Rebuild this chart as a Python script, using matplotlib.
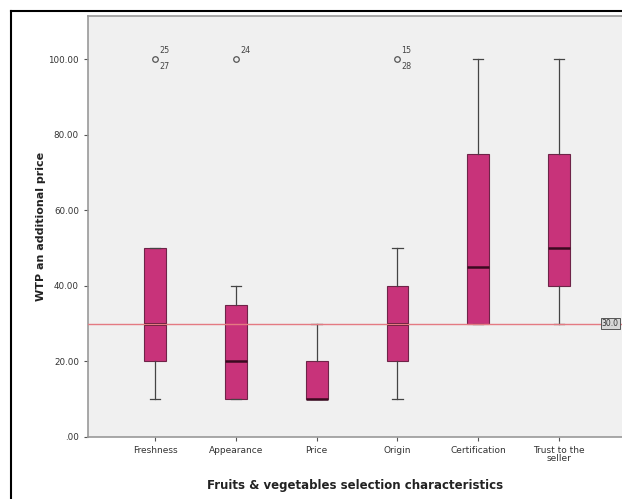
import matplotlib
matplotlib.use("Agg")
import matplotlib.pyplot as plt
from matplotlib.lines import Line2D

categories = ["Freshness", "Appearance", "Price", "Origin", "Certification", "Trust to the\nseller"]
whislo = [10, 10, 10, 10, 30, 30]
q1 = [20, 10, 10, 20, 30, 40]
med = [30, 20, 10, 30, 45, 50]
q3 = [50, 35, 20, 40, 75, 75]
whishi = [50, 40, 30, 50, 100, 100]
fliers = [[100], [100], [], [100], [], []]
flier_labels = [("25", "27"), ("24", None), None, ("15", "28"), None, None]
ref_value = 30.0
yticks = [0, 20, 40, 60, 80, 100]
ytick_labels = [".00", "20.00", "40.00", "60.00", "80.00", "100.00"]

fig = plt.figure(figsize=(6.22, 4.99), dpi=100)
ax = fig.add_axes([88/622, 1-437/499, 1-88/622, (437-16)/499])
ax.set_facecolor("#F0F0F0")

stats = []
for i in range(len(categories)):
    stats.append(dict(whislo=whislo[i], q1=q1[i], med=med[i], q3=q3[i],
                      whishi=whishi[i], fliers=fliers[i], label=categories[i]))

ax.bxp(stats, positions=range(len(categories)), widths=0.27, patch_artist=True,
       showfliers=True,
       boxprops=dict(facecolor="#C8337A", edgecolor="#6E2448", lw=0.8),
       medianprops=dict(color="#3A0A20", lw=1.8),
       whiskerprops=dict(color="#444444", lw=0.9),
       capprops=dict(color="#444444", lw=0.9),
       capwidths=0.13,
       flierprops=dict(marker="o", markersize=4, markerfacecolor="none",
                       markeredgecolor="#555555", markeredgewidth=0.9),
       zorder=2)

ax.axhline(ref_value, color="#E47A82", lw=1.0, zorder=4)

for i, labs in enumerate(flier_labels):
    if labs is None:
        continue
    top, bot = labs
    ax.annotate(top, (i, fliers[i][0]), xytext=(3, 3), textcoords="offset points",
                fontsize=5.8, color="#444444", ha="left", va="bottom")
    if bot:
        ax.annotate(bot, (i, fliers[i][0]), xytext=(3, -2), textcoords="offset points",
                    fontsize=5.8, color="#444444", ha="left", va="top")

ax.text(5.74, ref_value, "30.0", fontsize=5.5, color="#333333", va="center", ha="right",
        bbox=dict(boxstyle="square,pad=0.15", facecolor="#D8D8D8", edgecolor="#555555", lw=0.7),
        zorder=5, clip_on=False)

ax.set_xlim(-0.83, 5.78)
ax.set_ylim(0, 111.4)
ax.set_yticks(yticks)
ax.set_yticklabels(ytick_labels)
ax.set_xticks(range(len(categories)))
ax.set_xticklabels(categories, linespacing=0.9)
ax.tick_params(axis="both", colors="#555555", length=3, width=0.8, labelcolor="#333333")
ax.tick_params(axis="x", labelsize=6.5)
ax.tick_params(axis="y", labelsize=6.3)
for s in ["left", "bottom", "top"]:
    ax.spines[s].set_color("#999999")
    ax.spines[s].set_linewidth(1.2)
ax.spines["right"].set_visible(False)

ax.set_ylabel("WTP an additional price", fontsize=8, fontweight="bold", color="#222222", labelpad=2)
ax.set_xlabel("Fruits & vegetables selection characteristics", fontsize=8.5,
              fontweight="bold", color="#222222", labelpad=11)

fig.add_artist(Line2D([11/622, 11/622], [0, 1-11/499], transform=fig.transFigure, color="black", lw=1.5))
fig.add_artist(Line2D([11/622, 1], [1-11/499, 1-11/499], transform=fig.transFigure, color="black", lw=1.5))

fig.savefig("out.png", dpi=100)
